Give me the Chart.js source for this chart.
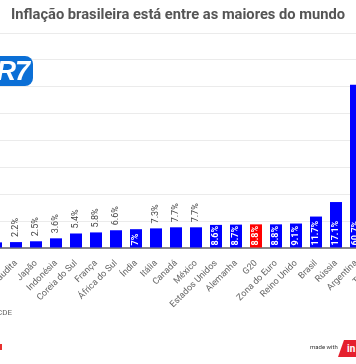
<!DOCTYPE html>
<html><head><meta charset="utf-8">
<script src="https://cdn.jsdelivr.net/npm/chart.js@4"></script>
<style>
html,body{margin:0;padding:0;background:#fff;width:356px;height:364px;overflow:hidden;position:relative;font-family:Roboto,sans-serif;}
#title{position:absolute;top:5px;left:0;width:356px;text-align:center;font:bold 14.7px Roboto;color:#555;white-space:nowrap;z-index:2;}
#wrap{position:absolute;left:-14px;top:0;width:400px;height:364px;}
#logo{position:absolute;left:-10px;top:56px;width:43px;height:30px;background:#0b6fd6;border-radius:0 8px 8px 0;color:#fff;font:italic bold 27px Arial,sans-serif;line-height:30px;text-align:right;box-sizing:border-box;padding-right:4px;letter-spacing:-1px;z-index:2;}
#source{position:absolute;right:344px;top:308px;font:8px Roboto;color:#666;white-space:nowrap;}
#redmark{position:absolute;left:-6px;top:344px;width:8px;height:6px;background:#e8302e;}
#made{position:absolute;left:310px;top:343px;font:6px Roboto;color:#333;white-space:nowrap;}
#ig{position:absolute;left:338px;top:340px;width:24px;height:17px;background:#e5202e;clip-path:polygon(25% 0,100% 0,100% 100%,0 100%);color:#fff;font:bold 10px Roboto;line-height:17px;padding-left:9px;box-sizing:border-box;}
</style>
</head><body>
<div id="title">Inflação brasileira está entre as maiores do mundo</div>
<div id="wrap"><canvas id="c" width="400" height="364"></canvas></div>
<div id="logo">R7</div>
<div id="source">Fonte: OCDE</div>
<div id="redmark"></div>
<div id="made">made with</div>
<div id="ig">in</div>
<script>
const categories = ["China","Arábia Saudita","Japão","Indonésia","Coreia do Sul","França","África do Sul","Índia","Itália","Canadá","México","Estados Unidos","Alemanha","G20","Zona do Euro","Reino Unido","Brasil","Rússia","Argentina","Turquia"];
const inflation = [2.1,2.2,2.5,3.6,5.4,5.8,6.6,7,7.3,7.7,7.7,8.6,8.7,8.8,8.8,9.1,11.7,17.1,60.7,73.5];
const highlighted = ["G20"];
const yTicks = [0,10,20,30,40,50,60,70,80];

const valueLabels = {
  id:'valueLabels',
  afterDatasetsDraw(chart){
    const ctx = chart.ctx;
    const meta = chart.getDatasetMeta(0);
    meta.data.forEach((bar,i)=>{
      const txt = inflation[i] + '%';
      const h = bar.base - bar.y;
      ctx.save();
      ctx.font = 'bold 9px Roboto';
      const wIn = ctx.measureText(txt).width;
      ctx.textBaseline = 'middle';
      ctx.textAlign = 'left';
      if (wIn + 2 <= h) {
        ctx.translate(bar.x, bar.base - 2);
        ctx.rotate(-Math.PI/2);
        ctx.fillStyle = '#fff';
        ctx.fillText(txt, 0, 0);
      } else {
        ctx.font = '9px Roboto';
        ctx.translate(bar.x, bar.y - 5);
        ctx.rotate(-Math.PI/2);
        ctx.fillStyle = '#444';
        ctx.fillText(txt, 0, 0);
      }
      ctx.restore();
    });
  }
};

new Chart(document.getElementById('c'), {
  type:'bar',
  data:{
    labels:categories,
    datasets:[{
      data:inflation,
      backgroundColor:categories.map(c=>highlighted.includes(c)?'#ff0000':'#0000ff'),
      borderWidth:0,
      barPercentage:0.6,
      categoryPercentage:1
    }]
  },
  options:{
    responsive:false, animation:false, devicePixelRatio:1,
    layout:{padding:{top:33,left:0,right:0,bottom:0}},
    plugins:{legend:{display:false},tooltip:{enabled:false},title:{display:false}},
    scales:{
      x:{
        grid:{display:false},
        border:{display:true,color:'#888',width:2},
        ticks:{autoSkip:false,minRotation:45,maxRotation:45,color:'#666',font:{family:'Roboto',size:9},padding:2},
        afterFit(s){ s.height = 116; s.paddingLeft = 0; s.paddingRight = 0; }
      },
      y:{
        min:0,max:80,
        afterBuildTicks(s){ s.ticks = yTicks.map(v=>({value:v})); },
        ticks:{display:false},
        grid:{color:'#ebebeb',drawTicks:false},
        border:{display:false},
        afterFit(s){ s.width = 0; }
      }
    }
  },
  plugins:[valueLabels]
});
</script>
</body></html>
